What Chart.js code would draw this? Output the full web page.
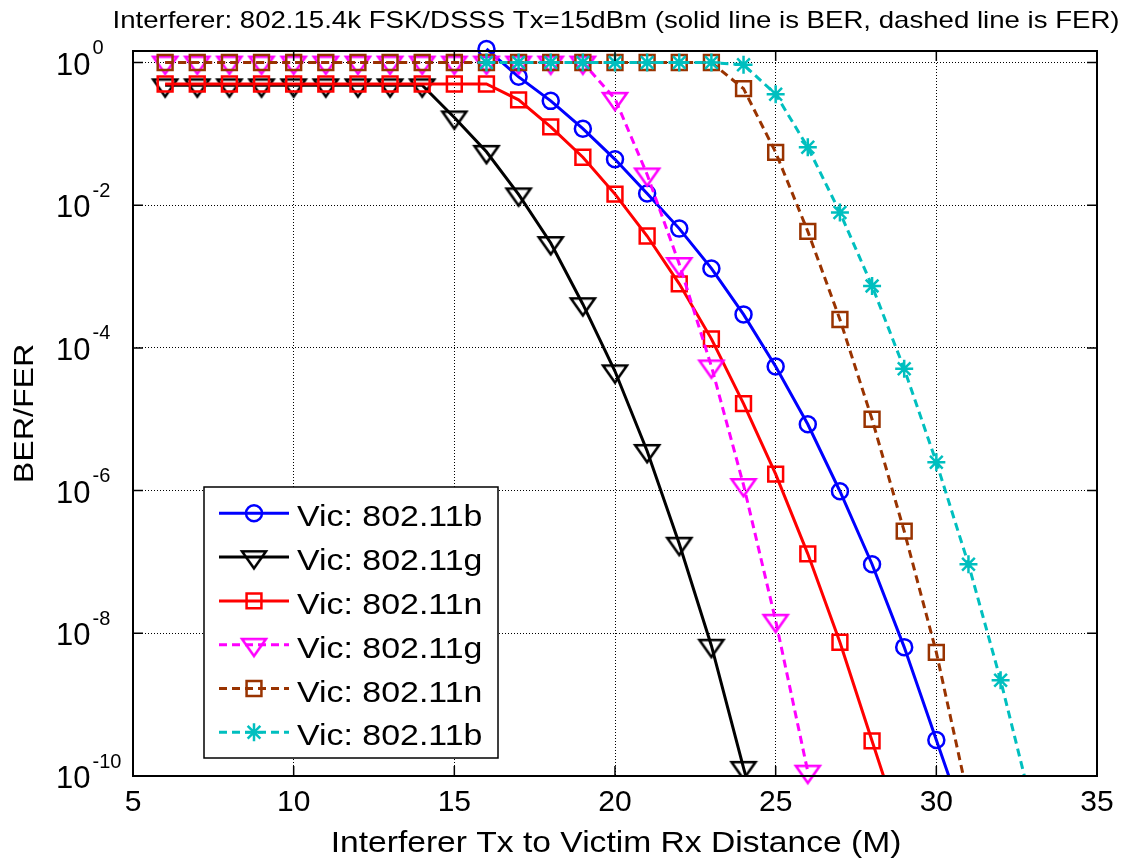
<!DOCTYPE html>
<html>
<head>
<meta charset="utf-8">
<script src="https://cdn.jsdelivr.net/npm/chart.js@4.4.0/dist/chart.umd.min.js"></script>
<style>
  html, body { margin: 0; padding: 0; background: #fff; }
</style>
</head>
<body>
<canvas id="berChart" width="1125" height="863"></canvas>
<script>
const FONT = "'Liberation Sans', Arial, sans-serif";

// axis ticks
const xTicks = [5, 10, 15, 20, 25, 30, 35];
const yTickExps = [0, -2, -4, -6, -8, -10];

// solid lines: BER
const berBDist = [16, 17, 18, 19, 20, 21, 22, 23, 24, 25, 26, 27, 28, 29, 30, 31];
const berB = [1.55, 0.63, 0.29, 0.118, 0.044, 0.0146, 4.7e-3, 1.3e-3, 2.95e-4, 5.5e-5, 8.5e-6, 9.8e-7, 9.3e-8, 6.4e-9, 3.2e-10, 1.6e-11];

const berGDist = [6, 7, 8, 9, 10, 11, 12, 13, 14, 15, 16, 17, 18, 19, 20, 21, 22, 23, 24, 25];
const berG = [0.48, 0.48, 0.48, 0.48, 0.48, 0.48, 0.48, 0.48, 0.48, 0.17, 0.056, 0.0142, 2.95e-3, 4.1e-4, 4.7e-5, 3.6e-6, 1.8e-7, 6.7e-9, 1.3e-10, 3e-12];

const berNDist = [6, 7, 8, 9, 10, 11, 12, 13, 14, 15, 16, 17, 18, 19, 20, 21, 22, 23, 24, 25, 26, 27, 28, 29];
const berN = [0.5, 0.5, 0.5, 0.5, 0.5, 0.5, 0.5, 0.5, 0.5, 0.5, 0.5, 0.30, 0.125, 0.047, 0.0143, 3.7e-3, 7.9e-4, 1.34e-4, 1.66e-5, 1.7e-6, 1.3e-7, 7.5e-9, 3.1e-10, 1.3e-11];

// dashed lines: FER
const ferGDist = [6, 7, 8, 9, 10, 11, 12, 13, 14, 15, 16, 17, 18, 19, 20, 21, 22, 23, 24, 25, 26];
const ferG = [1, 1, 1, 1, 1, 1, 1, 1, 1, 1, 1, 1, 1, 1, 0.31, 0.027, 1.5e-3, 5.5e-5, 1.2e-6, 1.5e-8, 1.15e-10];

const ferNDist = [6, 7, 8, 9, 10, 11, 12, 13, 14, 15, 16, 17, 18, 19, 20, 21, 22, 23, 24, 25, 26, 27, 28, 29, 30, 31];
const ferN = [1, 1, 1, 1, 1, 1, 1, 1, 1, 1, 1, 1, 1, 1, 1, 1, 1, 1, 0.43, 0.055, 4.3e-3, 2.5e-4, 1.0e-5, 2.7e-7, 5.4e-9, 4.7e-11];

const ferBDist = [16, 17, 18, 19, 20, 21, 22, 23, 24, 25, 26, 27, 28, 29, 30, 31, 32, 33];
const ferB = [1, 1, 1, 1, 1, 1, 1, 1, 0.93, 0.36, 0.065, 7.9e-3, 7.4e-4, 5.1e-5, 2.5e-6, 9.3e-8, 2.2e-9, 3.4e-11];

// MATLAB style wide down-pointing triangle, centroid on the data point
function makeTriangle(color) {
    const c = document.createElement('canvas');
    c.width = 30;
    c.height = 32;
    const g = c.getContext('2d');
    g.strokeStyle = color;
    g.lineWidth = 2.5;
    g.beginPath();
    g.moveTo(3, 10.3);
    g.lineTo(27, 10.3);
    g.lineTo(15, 27.3);
    g.closePath();
    g.stroke();
    return c;
}

function series(label, xs, ys, color, dash, style, radius, order, clipBottom) {
    return {
        label: label,
        data: xs.map((d, i) => ({ x: d, y: ys[i] })),
        borderColor: color,
        backgroundColor: color,
        borderWidth: 3,
        borderDash: dash,
        pointStyle: style,
        pointRadius: radius,
        pointBorderColor: color,
        pointBackgroundColor: 'rgba(0,0,0,0)',
        pointBorderWidth: 2.5,
        tension: 0,
        order: order,
        clip: { left: 20, top: 20, right: 20, bottom: clipBottom }
    };
}

const datasets = [
    series('Vic: 802.11b', berBDist, berB, '#0000ff', [], 'circle', 8, 6, 0),
    series('Vic: 802.11g', berGDist, berG, '#000000', [], makeTriangle('#000000'), 10, 5, 0),
    series('Vic: 802.11n', berNDist, berN, '#ff0000', [], 'rect', 10.5, 4, 0),
    series('Vic: 802.11g', ferGDist, ferG, '#ff00ff', [8, 5], makeTriangle('#ff00ff'), 10, 3, 20),
    series('Vic: 802.11n', ferNDist, ferN, '#993300', [8, 5], 'rect', 10.5, 2, 0),
    series('Vic: 802.11b', ferBDist, ferB, '#00bfbf', [8, 5], 'star', 9, 1, 0)
];

function stretchText(ctx, txt, x, y, size, sx, align, baseline, rot) {
    ctx.save();
    ctx.translate(x, y);
    if (rot) ctx.rotate(rot);
    ctx.scale(sx, 1);
    ctx.font = size + 'px ' + FONT;
    ctx.textAlign = align;
    ctx.textBaseline = baseline;
    ctx.fillStyle = '#000';
    ctx.fillText(txt, 0, 0);
    ctx.restore();
}

// frame, inward ticks, superscript labels, titles and the in-plot legend
const decorations = {
    id: 'decorations',
    afterDraw(chart) {
        const ctx = chart.ctx;
        const a = chart.chartArea;
        const xs = chart.scales.x;
        const ys = chart.scales.y;
        ctx.save();
        ctx.setLineDash([]);
        ctx.strokeStyle = '#000';
        ctx.lineWidth = 1.5;
        ctx.beginPath();
        xTicks.forEach(v => {
            const px = xs.getPixelForValue(v);
            ctx.moveTo(px, a.bottom); ctx.lineTo(px, a.bottom - 10);
            ctx.moveTo(px, a.top); ctx.lineTo(px, a.top + 10);
        });
        yTickExps.forEach(e => {
            const py = ys.getPixelForValue(Math.pow(10, e));
            ctx.moveTo(a.left, py); ctx.lineTo(a.left + 10, py);
            ctx.moveTo(a.right, py); ctx.lineTo(a.right - 10, py);
        });
        ctx.stroke();
        ctx.lineWidth = 2;
        ctx.strokeRect(a.left, a.top, a.right - a.left, a.bottom - a.top);

        // y tick labels as 10 with superscript exponent
        ctx.fillStyle = '#000';
        yTickExps.forEach(e => {
            const py = ys.getPixelForValue(Math.pow(10, e));
            ctx.font = '31px ' + FONT;
            ctx.textAlign = 'left';
            ctx.textBaseline = 'alphabetic';
            ctx.fillText('10', 56, py + 12);
            const w = ctx.measureText('10').width;
            ctx.font = '20px ' + FONT;
            ctx.fillText(String(e), 56 + w + 2, py - 8.5);
        });

        // titles
        const cx = (a.left + a.right) / 2;
        stretchText(ctx, 'Interferer: 802.15.4k FSK/DSSS Tx=15dBm (solid line is BER, dashed line is FER)',
            cx + 1, 28, 24, 1.15, 'center', 'alphabetic');
        stretchText(ctx, 'Interferer Tx to Victim Rx Distance (M)', cx + 1, 852, 30, 1.12, 'center', 'alphabetic');
        stretchText(ctx, 'BER/FER', 33, (a.top + a.bottom) / 2, 28, 1.15, 'center', 'alphabetic', -Math.PI / 2);

        // legend box
        const lx = 204, ly = 487, lw = 294, lh = 271, rowH = 43.8;
        ctx.fillStyle = '#fff';
        ctx.fillRect(lx, ly, lw, lh);
        ctx.lineWidth = 1.5;
        ctx.strokeStyle = '#000';
        ctx.strokeRect(lx, ly, lw, lh);
        chart.data.datasets.forEach((ds, i) => {
            const ry = ly + 26.3 + i * rowH;
            ctx.save();
            ctx.strokeStyle = ds.borderColor;
            ctx.lineWidth = ds.borderWidth;
            ctx.setLineDash(ds.borderDash);
            ctx.beginPath();
            ctx.moveTo(lx + 15, ry);
            ctx.lineTo(lx + 85, ry);
            ctx.stroke();
            ctx.setLineDash([]);
            ctx.lineWidth = ds.pointBorderWidth;
            ctx.fillStyle = 'rgba(0,0,0,0)';
            Chart.helpers.drawPoint(ctx, {
                pointStyle: ds.pointStyle, radius: ds.pointRadius, rotation: 0, borderWidth: ds.pointBorderWidth
            }, lx + 50, ry);
            ctx.restore();
            stretchText(ctx, ds.label, lx + 93, ry + 13, 30, 1.13, 'left', 'alphabetic');
        });
        ctx.restore();
    }
};

const ctx = document.getElementById('berChart').getContext('2d');

const config = {
    type: 'line',
    data: { datasets: datasets },
    options: {
        responsive: false,
        animation: false,
        layout: { padding: { left: 0, top: 51, right: 28, bottom: 0 } },
        plugins: {
            legend: { display: false },
            title: { display: false },
            tooltip: { enabled: false }
        },
        scales: {
            x: {
                type: 'linear',
                min: 5,
                max: 35,
                afterBuildTicks: s => { s.ticks = xTicks.map(v => ({ value: v })); },
                afterFit: s => { s.height = 87; },
                grid: { color: '#000', lineWidth: 1, drawTicks: false },
                border: { display: false, dash: [1, 2] },
                ticks: { font: { family: FONT, size: 30 }, color: '#000', padding: 9, maxRotation: 0, autoSkip: false }
            },
            y: {
                type: 'logarithmic',
                min: 1e-10,
                max: 1.45,
                afterBuildTicks: s => { s.ticks = yTickExps.map(e => ({ value: Math.pow(10, e) })); },
                afterFit: s => { s.width = 133; },
                grid: { color: '#000', lineWidth: 1, drawTicks: false },
                border: { display: false, dash: [1, 2] },
                ticks: { display: false }
            }
        }
    },
    plugins: [decorations]
};

const berChart = new Chart(ctx, config);
</script>
</body>
</html>
